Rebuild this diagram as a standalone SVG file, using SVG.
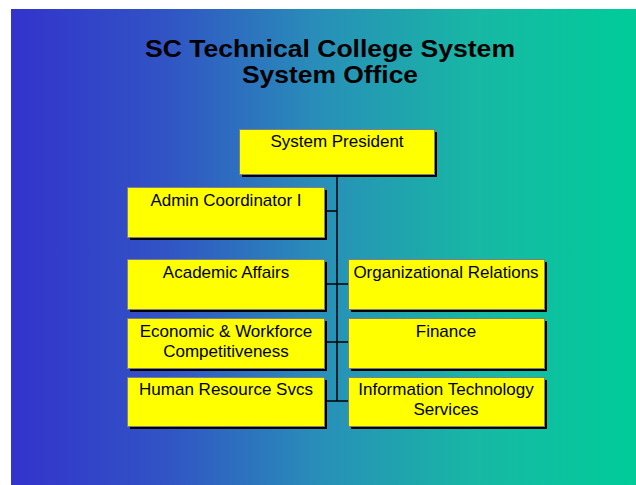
<svg xmlns="http://www.w3.org/2000/svg" width="636" height="485" viewBox="0 0 636 485">
  <defs>
    <linearGradient id="bg" x1="0" y1="0" x2="1" y2="0">
      <stop offset="0" stop-color="#3333cc"/>
      <stop offset="0.25" stop-color="#3154c5"/>
      <stop offset="0.5" stop-color="#2890b8"/>
      <stop offset="0.75" stop-color="#17b8a4"/>
      <stop offset="1" stop-color="#00cc99"/>
    </linearGradient>
  </defs>
  <style>
    .shadow { fill: #000000; }
    .box { fill: #ffff00; stroke: #7f7f7f; stroke-width: 1; }
    .lbl { font-family: "Liberation Sans", Arial, sans-serif; font-size: 17px; fill: #000000; text-anchor: middle; }
    .title { font-family: "Liberation Sans", Arial, sans-serif; font-size: 23px; font-weight: bold; fill: #000000; text-anchor: middle; }
    .conn { stroke: #000000; stroke-width: 1.5; fill: none; }
  </style>
  <rect x="0" y="0" width="636" height="485" fill="#ffffff"/>
  <rect x="11" y="9" width="625" height="476" fill="url(#bg)"/>

  <g id="title">
    <text class="title" x="330" y="57" textLength="370" lengthAdjust="spacingAndGlyphs">SC Technical College System</text>
    <text class="title" x="330" y="83" textLength="176" lengthAdjust="spacingAndGlyphs">System Office</text>
  </g>

  <g id="connectors">
    <line class="conn" x1="337" y1="174" x2="337" y2="401"/>
    <line class="conn" x1="324" y1="211" x2="337" y2="211"/>
    <line class="conn" x1="324" y1="284" x2="348" y2="284"/>
    <line class="conn" x1="324" y1="342" x2="348" y2="342"/>
    <line class="conn" x1="324" y1="401" x2="348" y2="401"/>
  </g>

  <g id="president">
    <rect class="shadow" x="242" y="132" width="195" height="45"/>
    <rect class="box" x="239.5" y="129.5" width="195" height="45"/>
    <text class="lbl" x="337" y="147">System President</text>
  </g>

  <g id="admin">
    <rect class="shadow" x="130" y="190" width="197" height="50"/>
    <rect class="box" x="127.5" y="187.5" width="197" height="50"/>
    <text class="lbl" x="226" y="206">Admin Coordinator I</text>
  </g>

  <g id="academic">
    <rect class="shadow" x="130" y="262" width="197" height="50"/>
    <rect class="box" x="127.5" y="259.5" width="197" height="50"/>
    <text class="lbl" x="226" y="278">Academic Affairs</text>
  </g>

  <g id="orgrel">
    <rect class="shadow" x="351" y="262" width="196" height="50"/>
    <rect class="box" x="348.5" y="259.5" width="196" height="50"/>
    <text class="lbl" x="446" y="278">Organizational Relations</text>
  </g>

  <g id="economic">
    <rect class="shadow" x="130" y="321" width="197" height="50"/>
    <rect class="box" x="127.5" y="318.5" width="197" height="50"/>
    <text class="lbl" x="226" y="337">Economic &amp; Workforce</text>
    <text class="lbl" x="226" y="357">Competitiveness</text>
  </g>

  <g id="finance">
    <rect class="shadow" x="351" y="321" width="196" height="50"/>
    <rect class="box" x="348.5" y="318.5" width="196" height="50"/>
    <text class="lbl" x="446" y="337">Finance</text>
  </g>

  <g id="hr">
    <rect class="shadow" x="130" y="380" width="197" height="49"/>
    <rect class="box" x="127.5" y="377.5" width="197" height="49"/>
    <text class="lbl" x="226" y="395">Human Resource Svcs</text>
  </g>

  <g id="it">
    <rect class="shadow" x="351" y="380" width="196" height="49"/>
    <rect class="box" x="348.5" y="377.5" width="196" height="49"/>
    <text class="lbl" x="446" y="395">Information Technology</text>
    <text class="lbl" x="446" y="415">Services</text>
  </g>
</svg>
